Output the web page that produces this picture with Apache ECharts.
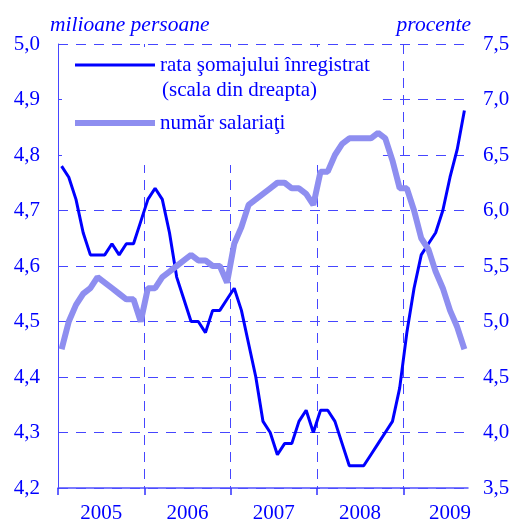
<!DOCTYPE html>
<html>
<head>
<meta charset="utf-8">
<script src="https://cdn.jsdelivr.net/npm/echarts@6/dist/echarts.min.js"></script>
<style>
  html, body { margin: 0; padding: 0; background: #fff; }
  #main { width: 514px; height: 524px; }
</style>
</head>
<body>
<div id="main"></div>
<script>
// lunar, ian 2005 - sep 2009
var years = ['2005', '2006', '2007', '2008', '2009'];
var yearLabelPos = [6, 18, 30, 42, 54.5];
var yearStarts = [0, 12, 24, 36, 48];

// rata somajului inregistrat (%) - scala din dreapta
var somaj = [
  6.4, 6.3, 6.1, 5.8, 5.6, 5.6, 5.6, 5.7, 5.6, 5.7, 5.7, 5.9,
  6.1, 6.2, 6.1, 5.8, 5.4, 5.2, 5.0, 5.0, 4.9, 5.1, 5.1, 5.2,
  5.3, 5.1, 4.8, 4.5, 4.1, 4.0, 3.8, 3.9, 3.9, 4.1, 4.2, 4.0,
  4.2, 4.2, 4.1, 3.9, 3.7, 3.7, 3.7, 3.8, 3.9, 4.0, 4.1, 4.4,
  4.9, 5.3, 5.6, 5.7, 5.8, 6.0, 6.3, 6.55, 6.9
];

// numar salariati (milioane persoane)
var salariati = [
  4.45, 4.50, 4.53, 4.55, 4.56, 4.58, 4.57, 4.56, 4.55, 4.54, 4.54, 4.50,
  4.56, 4.56, 4.58, 4.59, 4.60, 4.61, 4.62, 4.61, 4.61, 4.60, 4.60, 4.57,
  4.64, 4.67, 4.71, 4.72, 4.73, 4.74, 4.75, 4.75, 4.74, 4.74, 4.73, 4.71,
  4.77, 4.77, 4.80, 4.82, 4.83, 4.83, 4.83, 4.83, 4.84, 4.83, 4.79, 4.74,
  4.74, 4.70, 4.65, 4.63, 4.59, 4.56, 4.52, 4.49, 4.45
];

var blue = '#0000ff';
var lightBlue = '#8e8ef0';
var gridBlue = '#4646ff';
var font = '"Liberation Serif", "Times New Roman", serif';

function toPairs(arr) {
  return arr.map(function (v, i) { return [i + 0.5, v]; });
}
function comma(v) {
  return v.toFixed(1).replace('.', ',');
}

var chart = echarts.init(document.getElementById('main'));
chart.setOption({
  animation: false,
  title: [
    { text: 'milioane persoane', left: 50, top: 13, padding: 0,
      textStyle: { color: blue, fontFamily: font, fontSize: 21.5, fontStyle: 'italic', fontWeight: 'normal', lineHeight: 24 } },
    { text: 'procente', right: 43, top: 13, padding: 0,
      textStyle: { color: blue, fontFamily: font, fontSize: 21.5, fontStyle: 'italic', fontWeight: 'normal', lineHeight: 24 } },
    { text: '(scala din dreapta)', left: 162, top: 78, padding: 0,
      textStyle: { color: blue, fontFamily: font, fontSize: 21, fontWeight: 'normal', lineHeight: 24 } }
  ],
  legend: {
    orient: 'vertical',
    left: 62,
    top: 47,
    padding: [6, 13, 30, 10],
    itemGap: 34,
    itemWidth: 80,
    itemHeight: 14,
    backgroundColor: '#fff',
    z: 1,
    itemStyle: { opacity: 0 },
    textStyle: { color: blue, fontFamily: font, fontSize: 21, lineHeight: 24 },
    data: [
      { name: 'rata şomajului înregistrat', lineStyle: { color: blue, width: 3 } },
      { name: 'număr salariaţi', lineStyle: { color: lightBlue, width: 6 } }
    ]
  },
  grid: { left: 58, right: 46, top: 44, bottom: 34 },
  xAxis: {
    type: 'value',
    min: 0,
    max: 57,
    axisLine: { show: true, lineStyle: { color: '#5050ff', width: 1.5 } },
    axisTick: {
      show: true, length: 7, inside: false,
      customValues: yearStarts,
      lineStyle: { color: '#3030ff', width: 1.5 }
    },
    axisLabel: {
      customValues: yearLabelPos,
      margin: 15,
      color: blue, fontFamily: font, fontSize: 21,
      formatter: function (v) { return years[yearLabelPos.indexOf(v)] || ''; }
    },
    splitLine: { show: true, lineStyle: { color: gridBlue, type: [10, 7], width: 1 } }
  },
  yAxis: [
    {
      type: 'value',
      min: 4.2, max: 5.0, interval: 0.1,
      axisLine: { show: true, lineStyle: { color: gridBlue, type: [10, 7] } },
      axisTick: { show: false },
      axisLabel: { margin: 18, color: blue, fontFamily: font, fontSize: 21, formatter: comma },
      splitLine: { show: true, lineStyle: { color: gridBlue, type: [10, 8], width: 1 } }
    },
    {
      type: 'value',
      min: 3.5, max: 7.5, interval: 0.5,
      position: 'right',
      axisLine: { show: false },
      axisTick: { show: false },
      axisLabel: { margin: 15, color: blue, fontFamily: font, fontSize: 21, formatter: comma },
      splitLine: { show: false }
    }
  ],
  series: [
    {
      name: 'rata şomajului înregistrat',
      type: 'line',
      yAxisIndex: 1,
      data: toPairs(somaj),
      symbol: 'none',
      lineStyle: { color: blue, width: 3 },
      itemStyle: { color: blue }
    },
    {
      name: 'număr salariaţi',
      type: 'line',
      yAxisIndex: 0,
      data: toPairs(salariati),
      symbol: 'none',
      lineStyle: { color: lightBlue, width: 6 },
      itemStyle: { color: lightBlue }
    }
  ]
});
</script>
</body>
</html>
